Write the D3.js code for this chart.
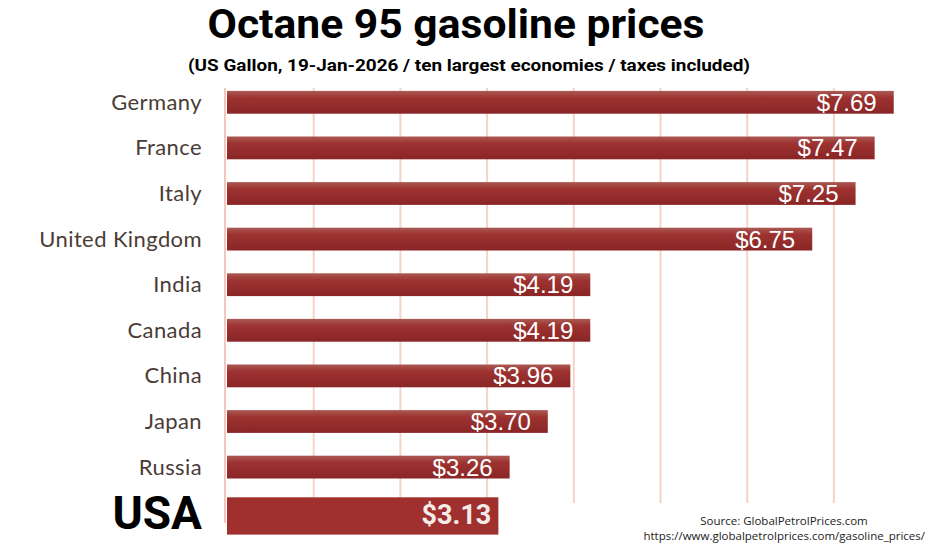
<!DOCTYPE html>
<html>
<head>
<meta charset="utf-8">
<script src="https://cdn.jsdelivr.net/npm/d3@7"></script>
<style>
  body { margin: 0; background: #fff; }
  svg { display: block; }
</style>
</head>
<body>
<svg id="chart"></svg>
<script>
// Data
const countries = ['Germany', 'France', 'Italy', 'United Kingdom', 'India',
                   'Canada', 'China', 'Japan', 'Russia', 'USA'];
const prices = [7.69, 7.47, 7.25, 6.75, 4.19, 4.19, 3.96, 3.70, 3.26, 3.13];
const highlight = 'USA';

const titleText = 'Octane 95 gasoline prices';
const subtitleText = '(US Gallon, 19-Jan-2026 / ten largest economies / taxes included)';
const sourceLines = ['Source: GlobalPetrolPrices.com',
                     'https://www.globalpetrolprices.com/gasoline_prices/'];

const data = countries.map((c, i) => ({ country: c, price: prices[i] }));

const width = 940, height = 550;
const svg = d3.select('#chart')
    .attr('width', width)
    .attr('height', height);

// Scales: one dollar ~ 86.7px, bars start at x=227
const xScale = d3.scaleLinear()
    .domain([0, 8])
    .range([227, 227 + 8 * 86.7]);

const yScale = d3.scaleBand()
    .domain(countries)
    .range([79.5, 535.5])
    .paddingInner(0.5)
    .paddingOuter(0.25);

// Bar gradient
const defs = svg.append('defs');
const grad = defs.append('linearGradient')
    .attr('id', 'barGrad')
    .attr('x1', 0).attr('y1', 0).attr('x2', 0).attr('y2', 1);
grad.append('stop').attr('offset', '0%').attr('stop-color', '#ab5a54');
grad.append('stop').attr('offset', '30%').attr('stop-color', '#9d3331');
grad.append('stop').attr('offset', '100%').attr('stop-color', '#8a2526');

// Gridlines (one per dollar)
const gridTicks = xScale.ticks(8).filter(t => t > 0 && t < 8);
svg.append('g')
    .attr('class', 'grid')
    .selectAll('line')
    .data(gridTicks)
    .join('line')
    .attr('x1', d => xScale(d))
    .attr('x2', d => xScale(d))
    .attr('y1', 88)
    .attr('y2', 503)
    .attr('stroke', '#f6d2c7')
    .attr('stroke-width', 2);

// Left axis line
svg.append('line')
    .attr('x1', xScale(0) - 2)
    .attr('x2', xScale(0) - 2)
    .attr('y1', 88)
    .attr('y2', 523)
    .attr('stroke', '#f3c8bc')
    .attr('stroke-width', 2);

// Bars
svg.append('g')
    .selectAll('rect')
    .data(data)
    .join('rect')
    .attr('x', xScale(0))
    .attr('y', d => d.country === highlight ? yScale(d.country) - 4 : yScale(d.country))
    .attr('width', d => xScale(d.price) - xScale(0))
    .attr('height', d => d.country === highlight ? yScale.bandwidth() + 14.5 : yScale.bandwidth())
    .attr('fill', d => d.country === highlight ? '#a0302e' : 'url(#barGrad)');

// Value labels inside bars
svg.append('g')
    .selectAll('text')
    .data(data)
    .join('text')
    .attr('x', d => xScale(d.price) - (d.country === highlight ? 7 : 17))
    .attr('y', d => yScale(d.country) + yScale.bandwidth() / 2 + (d.country === highlight ? 11 : 8.5))
    .attr('text-anchor', 'end')
    .attr('fill', d => d.country === highlight ? '#f3ece9' : '#fff')
    .style('font-family', d => d.country === highlight ? 'Roboto, sans-serif' : '"Liberation Sans", Arial, sans-serif')
    .style('font-weight', d => d.country === highlight ? 700 : 400)
    .style('font-size', d => d.country === highlight ? '27px' : '24px')
    .text(d => '$' + d3.format('.2f')(d.price));

// Country labels
svg.append('g')
    .selectAll('text')
    .data(data)
    .join('text')
    .attr('x', 202)
    .attr('y', d => yScale(d.country) + yScale.bandwidth() / 2 + (d.country === highlight ? 16 : 7.5))
    .attr('text-anchor', 'end')
    .attr('fill', d => d.country === highlight ? '#000' : '#4b3b36')
    .style('font-family', d => d.country === highlight ? 'Roboto, sans-serif' : 'Lato, sans-serif')
    .style('font-weight', d => d.country === highlight ? 700 : 400)
    .style('font-size', d => d.country === highlight ? '46px' : '22px')
    .style('letter-spacing', d => d.country === highlight ? '0px' : '0.4px')
    .text(d => d.country);

// Title and subtitle
svg.append('text')
    .attr('x', 456)
    .attr('y', 38)
    .attr('text-anchor', 'middle')
    .attr('textLength', 497)
    .attr('lengthAdjust', 'spacingAndGlyphs')
    .style('font-family', 'Roboto, sans-serif')
    .style('font-weight', 700)
    .style('font-size', '40px')
    .attr('fill', '#000')
    .text(titleText);

svg.append('text')
    .attr('x', 469)
    .attr('y', 71)
    .attr('text-anchor', 'middle')
    .attr('textLength', 562)
    .attr('lengthAdjust', 'spacingAndGlyphs')
    .style('font-family', 'Roboto, sans-serif')
    .style('font-weight', 700)
    .style('font-size', '17px')
    .attr('fill', '#000')
    .text(subtitleText);

// Source note
svg.append('g')
    .selectAll('text')
    .data(sourceLines)
    .join('text')
    .attr('x', (d, i) => i === 0 ? 784 : 925)
    .attr('y', (d, i) => 525 + i * 15)
    .attr('text-anchor', (d, i) => i === 0 ? 'middle' : 'end')
    .style('font-family', '"Open Sans", sans-serif')
    .style('font-size', '11.5px')
    .attr('fill', '#222')
    .text(d => d);
</script>
</body>
</html>
